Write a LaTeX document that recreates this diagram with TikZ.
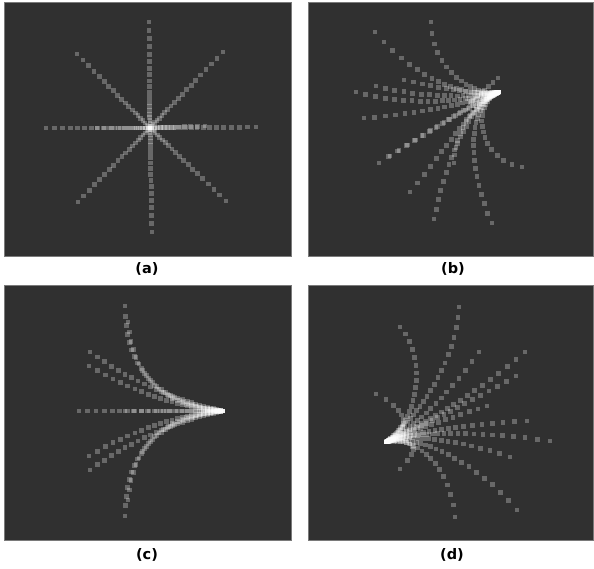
\documentclass[tikz,border=0pt]{standalone}
\usepackage{fontspec}
\newfontfamily\capfont{DejaVu Sans}
\definecolor{panelbg}{HTML}{303030}
\definecolor{edge}{HTML}{7A7A7A}

% one trajectory: cubic from (#1,#2) via (#3,#4),(#5,#6) to (#7,#8), denser near the start
\newcommand\traj[8]{%
  \pgfmathtruncatemacro\ndots{(veclen((#7)-(#1),(#8)-(#2))+veclen((#3)-(#1),(#4)-(#2))+veclen((#5)-(#3),(#6)-(#4))+veclen((#7)-(#5),(#8)-(#6)))/12+3}%
  \foreach \k in {0,...,\ndots}{%
    \pgfmathsetmacro\upar{\k/\ndots}%
    \pgfmathsetmacro\tpar{0.35*\upar+0.65*\upar*\upar}%
    \pgfmathsetmacro\vpar{1-\tpar}%
    \pgfmathsetmacro\dotx{\vpar*\vpar*\vpar*(#1)+3*\vpar*\vpar*\tpar*(#3)+3*\vpar*\tpar*\tpar*(#5)+\tpar*\tpar*\tpar*(#7)}%
    \pgfmathsetmacro\doty{\vpar*\vpar*\vpar*(#2)+3*\vpar*\vpar*\tpar*(#4)+3*\vpar*\tpar*\tpar*(#6)+\tpar*\tpar*\tpar*(#8)}%
    \fill[dot] (\dotx-2.4,\doty-2.4) rectangle ++(4.8,4.8);
  }}
% quadratic bend with one control point
\newcommand\bend[6]{\traj{#1}{#2}{#1+2*(#3-#1)/3}{#2+2*(#4-#2)/3}{#5+2*(#3-#5)/3}{#6+2*(#4-#6)/3}{#5}{#6}}
% straight ray
\newcommand\ray[4]{\bend{#1}{#2}{(#1+#3)/2}{(#2+#4)/2}{#3}{#4}}

\begin{document}
\begin{tikzpicture}[x=1pt,y=-1pt,
    panel/.style={fill=panelbg,draw=edge,line width=.5pt},
    dot/.style={fill=white,opacity=.27},
    tag/.style={font=\capfont\bfseries\fontsize{14.5}{17}\selectfont,inner sep=0pt}]
  \useasboundingbox[fill=white] (0,0) rectangle (594,569);
  \path[panel] (4,2) rectangle (291,256);
  \path[panel] (308,2) rectangle (593,256);
  \path[panel] (4,285) rectangle (291,540);
  \path[panel] (308,285) rectangle (593,540);

  % (a) straight burst
  \foreach \ex/\ey in {149/22,152/232,46/128,256/127,77/54,223/52,78/202,226/201}
    {\ray{150}{128}{\ex}{\ey}}
  \ray{150}{128}{205}{126}
  \ray{150}{128}{97}{128}

  % (b) fan to the left and down
  \traj{499}{92}{480}{97}{432}{75}{431}{22}
  \traj{499}{92}{478}{97}{425}{90}{375}{32}
  \traj{499}{92}{475}{100}{410}{108}{356}{92}
  \traj{499}{92}{475}{98}{420}{98}{376}{86}
  \traj{499}{92}{480}{96}{440}{88}{404}{80}
  \traj{499}{92}{475}{102}{420}{114}{364}{118}
  \traj{499}{92}{475}{103}{430}{130}{379}{163}
  \traj{499}{92}{475}{103}{435}{128}{390}{156}
  \traj{499}{92}{470}{106}{450}{145}{410}{192}
  \traj{499}{92}{468}{105}{445}{165}{434}{219}
  \traj{499}{92}{470}{105}{455}{135}{454}{163}
  \traj{499}{92}{465}{105}{468}{170}{492}{223}
  \traj{499}{92}{470}{105}{478}{160}{522}{167}
  \ray{470}{103}{498}{78}

  % (c) mirrored fan to the left
  \bend{223}{411}{125}{400}{125}{306}
  \bend{223}{411}{135}{405}{128}{322}
  \bend{223}{411}{150}{395}{90}{352}
  \bend{223}{411}{155}{405}{89}{366}
  \ray{223}{411}{79}{411}
  \ray{223}{411}{125}{411}
  \bend{223}{411}{155}{417}{89}{456}
  \bend{223}{411}{150}{427}{90}{470}
  \bend{223}{411}{135}{417}{128}{500}
  \bend{223}{411}{125}{422}{125}{516}

  % (d) fan to the right
  \traj{386}{442}{410}{425}{455}{370}{459}{307}
  \traj{386}{442}{415}{425}{430}{360}{400}{327}
  \traj{386}{442}{410}{430}{445}{400}{479}{352}
  \traj{386}{442}{410}{430}{470}{400}{525}{352}
  \traj{386}{442}{410}{432}{465}{405}{516}{376}
  \traj{386}{442}{410}{432}{450}{418}{487}{406}
  \traj{386}{442}{410}{433}{460}{425}{527}{421}
  \traj{386}{442}{410}{432}{470}{430}{550}{441}
  \traj{386}{442}{410}{433}{460}{440}{510}{457}
  \traj{386}{442}{410}{433}{470}{455}{517}{510}
  \traj{386}{442}{410}{435}{450}{460}{455}{517}
  \bend{386}{442}{432}{438}{400}{469}
  \bend{386}{442}{425}{420}{376}{394}

  \node[tag] (lbla) at (147,269) {(a)};
  \node[tag] (lblb) at (453,269) {(b)};
  \node[tag] (lblc) at (147,555) {(c)};
  \node[tag] (lbld) at (452,555) {(d)};
\end{tikzpicture}
\end{document}
